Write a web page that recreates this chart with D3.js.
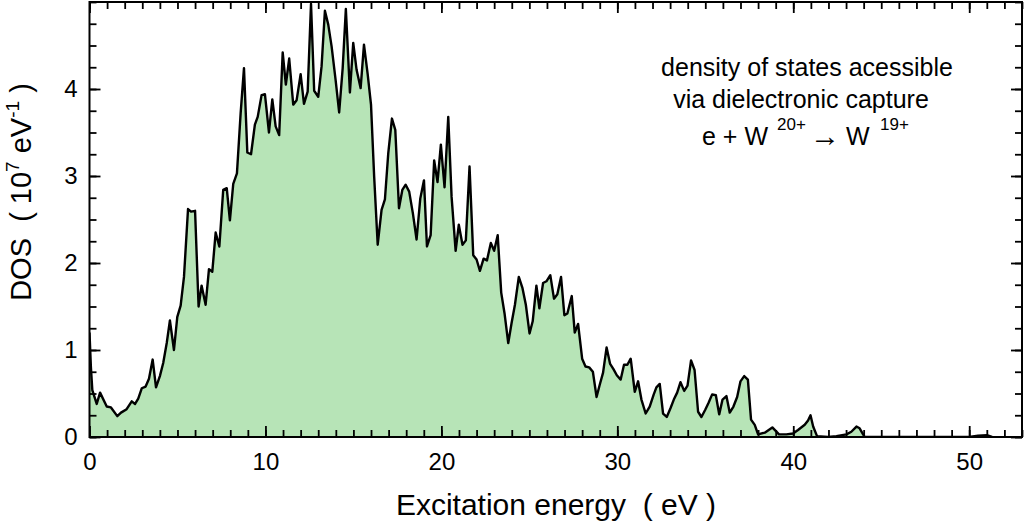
<!DOCTYPE html>
<html><head><meta charset="utf-8">
<script src="https://cdn.jsdelivr.net/npm/d3@7"></script>
<style>
body{margin:0;background:#fff;}
svg{display:block;font-family:"Liberation Sans",Arial,sans-serif;}
text{white-space:pre;}
</style></head><body>
<svg id="chart" width="1024" height="524"></svg>
<script>
// Excitation energy (eV)
const energy = [0,0.08,0.16,0.41,0.60,0.98,1.22,1.58,1.79,2.11,2.40,2.59,2.77,2.97,3.19,3.38,3.59,3.78,4.00,4.19,4.39,4.57,4.80,4.99,5.18,5.37,5.60,5.77,6.00,6.20,6.37,6.60,6.79,6.98,7.17,7.38,7.60,7.80,7.98,8.17,8.38,8.59,8.78,8.97,9.18,9.40,9.56,9.78,9.97,10.20,10.39,10.58,10.78,10.98,11.16,11.35,11.58,11.77,12.00,12.19,12.40,12.59,12.77,13.00,13.19,13.38,13.57,13.76,13.99,14.19,14.39,14.57,14.80,14.99,15.18,15.41,15.60,15.81,16.00,16.18,16.38,16.60,16.79,16.98,17.19,17.38,17.59,17.78,17.97,18.17,18.38,18.59,18.80,19.01,19.18,19.39,19.59,19.78,19.97,20.18,20.39,20.58,20.81,20.99,21.20,21.39,21.60,21.81,22.00,22.19,22.40,22.59,22.81,23.00,23.20,23.40,23.59,23.80,23.99,24.18,24.40,24.61,24.80,25.01,25.19,25.40,25.57,25.78,25.97,26.19,26.40,26.59,26.80,26.99,27.16,27.41,27.58,27.77,28.00,28.19,28.40,28.61,28.82,29.00,29.19,29.39,29.59,29.78,29.97,30.19,30.38,30.57,30.76,30.99,31.18,31.37,31.61,31.84,32.07,32.22,32.41,32.60,32.81,33.02,33.21,33.40,33.59,33.80,33.99,34.19,34.39,34.59,34.78,34.99,35.18,35.39,35.60,35.79,35.98,36.20,36.39,36.60,36.81,37.00,37.21,37.42,37.60,37.81,38.00,38.38,38.81,39.19,39.61,39.99,40.27,40.65,40.84,40.98,41.13,41.35,41.98,42.45,43.02,43.30,43.59,43.77,43.97,44.06,50.00,50.50,51.00,51.30];
// DOS (10^7 eV^-1)
const dos = [1.20,0.80,0.54,0.38,0.51,0.35,0.34,0.24,0.28,0.32,0.41,0.38,0.44,0.56,0.58,0.67,0.89,0.57,0.70,0.85,1.08,1.34,1.00,1.38,1.51,1.84,2.62,2.59,2.60,1.50,1.74,1.52,1.93,1.90,2.35,2.19,2.84,2.86,2.49,2.91,3.03,3.72,4.24,3.27,3.25,3.59,3.68,3.93,3.94,3.50,3.88,3.57,3.47,4.42,4.05,4.35,3.82,3.87,4.17,3.83,3.97,4.98,3.98,3.91,4.26,4.90,4.74,4.49,4.10,3.73,4.24,4.92,3.96,4.53,4.22,4.01,4.51,4.17,3.82,2.99,2.21,2.61,2.73,3.26,3.66,3.53,2.63,2.84,2.90,2.82,2.57,2.27,2.74,2.95,2.19,2.32,3.18,2.93,3.36,2.87,3.68,2.76,2.14,2.44,2.21,2.26,3.11,2.09,2.04,1.91,2.05,2.03,2.23,2.14,2.32,1.66,1.42,1.08,1.31,1.52,1.84,1.71,1.52,1.19,1.33,1.74,1.48,1.77,1.79,1.86,1.59,1.64,1.84,1.40,1.42,1.62,1.20,1.30,0.90,0.81,0.80,0.75,0.46,0.60,0.74,1.03,0.84,0.78,0.71,0.66,0.83,0.83,0.90,0.52,0.64,0.43,0.27,0.35,0.49,0.57,0.61,0.27,0.23,0.33,0.43,0.51,0.63,0.53,0.59,0.88,0.77,0.29,0.23,0.31,0.39,0.49,0.48,0.26,0.43,0.47,0.28,0.35,0.46,0.64,0.70,0.66,0.20,0.14,0.03,0.05,0.11,0.03,0.03,0.04,0.08,0.14,0.19,0.25,0.12,0.01,0.00,0.01,0.03,0.06,0.12,0.10,0.03,0.00,0.00,0.015,0.02,0.00];
const xTickValues = [0,10,20,30,40,50];
const yTickValues = [0,1,2,3,4];
const xDomain = [0,53];
const yDomain = [0,5];

const svg = d3.select("#chart");
const L = 89.5, R = 1022, T = 2, B = 437;
const x = d3.scaleLinear().domain(xDomain).range([L, R]);
const y = d3.scaleLinear().domain(yDomain).range([B, T]);
const data = energy.map((e,i)=>({e, v: dos[i]}));

svg.append("clipPath").attr("id","clip").append("rect")
  .attr("x",L).attr("y",T).attr("width",R-L).attr("height",B-T);

const g = svg.append("g").attr("clip-path","url(#clip)");
g.append("path").datum(data)
  .attr("d", d3.area().x(d=>x(d.e)).y0(y(0)).y1(d=>y(d.v)))
  .attr("fill","#b7e4b7");
g.append("path").datum(data)
  .attr("d", d3.line().x(d=>x(d.e)).y(d=>y(d.v)))
  .attr("fill","none").attr("stroke","#000").attr("stroke-width",2.4)
  .attr("stroke-linejoin","round");

const xMinor = d3.range(0,54,1), yMinor = d3.range(0,5.01,0.25);
function styleAxis(sel){
  sel.select(".domain").remove();
  sel.selectAll("line").attr("stroke","#000").attr("stroke-width",1.8);
  sel.selectAll("text").attr("fill","#000").style("font-size","24px")
     .style("font-family","'Liberation Sans',Arial,sans-serif");
}
// bottom
svg.append("g").attr("transform",`translate(0,${B})`)
  .call(d3.axisBottom(x).tickValues(xMinor).tickSize(-7).tickFormat("")).call(styleAxis);
svg.append("g").attr("transform",`translate(0,${B})`)
  .call(d3.axisBottom(x).tickValues(xTickValues).tickSize(-11).tickPadding(16).tickFormat(d3.format("d"))).call(styleAxis);
// top
svg.append("g").attr("transform",`translate(0,${T})`)
  .call(d3.axisTop(x).tickValues(xMinor).tickSize(-7).tickFormat("")).call(styleAxis);
svg.append("g").attr("transform",`translate(0,${T})`)
  .call(d3.axisTop(x).tickValues(xTickValues).tickSize(-11).tickFormat("")).call(styleAxis);
// left
svg.append("g").attr("transform",`translate(${L},0)`)
  .call(d3.axisLeft(y).tickValues(yMinor).tickSize(-7).tickFormat("")).call(styleAxis);
svg.append("g").attr("transform",`translate(${L},0)`)
  .call(d3.axisLeft(y).tickValues(yTickValues).tickSize(-11).tickPadding(12).tickFormat(d3.format("d"))).call(styleAxis);
// right
svg.append("g").attr("transform",`translate(${R},0)`)
  .call(d3.axisRight(y).tickValues(yMinor).tickSize(-7).tickFormat("")).call(styleAxis);
svg.append("g").attr("transform",`translate(${R},0)`)
  .call(d3.axisRight(y).tickValues(yTickValues).tickSize(-11).tickFormat("")).call(styleAxis);

svg.append("rect").attr("x",L).attr("y",T).attr("width",R-L).attr("height",B-T)
  .attr("fill","none").attr("stroke","#000").attr("stroke-width",2);

// axis titles
svg.append("text").attr("x",556).attr("y",515).attr("text-anchor","middle")
  .style("font-size","30px").text("Excitation energy  ( eV )");
const yt = svg.append("text").attr("transform","translate(31,192) rotate(-90)")
  .attr("text-anchor","middle").style("font-size","29px");
yt.append("tspan").text("DOS  ( 10");
yt.append("tspan").attr("dy",-12).style("font-size","19px").text("7");
yt.append("tspan").attr("dy",12).text(" eV");
yt.append("tspan").attr("dy",-12).style("font-size","19px").text("-1");
yt.append("tspan").attr("dy",12).text(" )");

// annotation
const ann = svg.append("g").style("font-size","25px");
ann.append("text").attr("x",807).attr("y",76).attr("text-anchor","middle").text("density of states acessible");
ann.append("text").attr("x",801).attr("y",108).attr("text-anchor","middle").text("via dielectronic capture");
ann.append("text").attr("x",702).attr("y",145).text("e + W");
ann.append("text").attr("x",777).attr("y",130).style("font-size","17px").text("20+");
ann.append("text").attr("x",810).attr("y",146).style("font-size","30px").text("→");
ann.append("text").attr("x",846).attr("y",145).text("W");
ann.append("text").attr("x",880).attr("y",130).style("font-size","17px").text("19+");
</script>
</body></html>
